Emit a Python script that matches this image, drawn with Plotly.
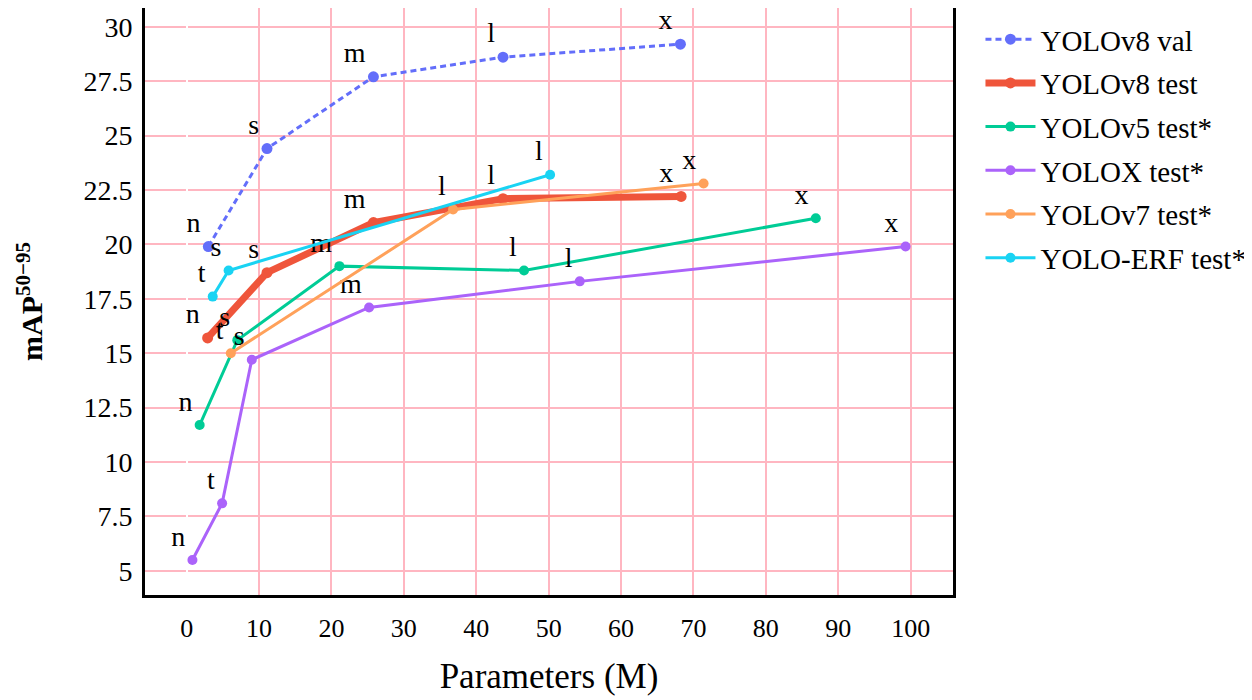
import plotly.graph_objects as go

# ---- data ----
v8val_params = [3.0, 11.1, 25.8, 43.7, 68.2]
v8val_map = [19.9, 24.4, 27.7, 28.6, 29.2]
v8val_labels = ["n", "s", "m", "l", "x"]

v8test_params = [2.9, 11.1, 25.8, 43.7, 68.3]
v8test_map = [15.7, 18.7, 21.0, 22.1, 22.2]
v8test_labels = ["n", "s", "m", "l", "x"]

v5_params = [1.8, 7.0, 21.1, 46.6, 86.9]
v5_map = [11.7, 15.6, 19.0, 18.8, 21.2]
v5_labels = ["n", "s", "m", "l", "x"]

yx_params = [0.8, 4.9, 9.0, 25.2, 54.3, 99.3]
yx_map = [5.5, 8.1, 14.7, 17.1, 18.3, 19.9]
yx_labels = ["n", "t", "s", "m", "l", "x"]

v7_params = [6.1, 36.8, 71.4]
v7_map = [15.0, 21.6, 22.8]
v7_labels = ["t", "l", "x"]

erf_params = [3.6, 5.8, 50.2]
erf_map = [17.6, 18.8, 23.2]
erf_labels = ["t", "s", "l"]

x_ticks = [0, 10, 20, 30, 40, 50, 60, 70, 80, 90, 100]
y_ticks = [5, 7.5, 10, 12.5, 15, 17.5, 20, 22.5, 25, 27.5, 30]

FONT = "Liberation Serif"

series = [
    ("YOLOv8 val", v8val_params, v8val_map, v8val_labels, "#636EFA", 3, "6px,4px", 11),
    ("YOLOv8 test", v8test_params, v8test_map, v8test_labels, "#EF553B", 7, "solid", 11),
    ("YOLOv5 test*", v5_params, v5_map, v5_labels, "#00CC96", 3, "solid", 10),
    ("YOLOX test*", yx_params, yx_map, yx_labels, "#AB63FA", 3, "solid", 10),
    ("YOLOv7 test*", v7_params, v7_map, v7_labels, "#FFA15A", 3, "solid", 10),
    ("YOLO-ERF test*", erf_params, erf_map, erf_labels, "#19D3F3", 3, "solid", 10),
]

fig = go.Figure()
for name, xs, ys, labels, color, width, dash, msize in series:
    fig.add_trace(go.Scatter(
        x=xs, y=ys, name=name, legendgroup=name, mode="lines+markers+text",
        text=labels, textposition="top left",
        textfont=dict(family=FONT, size=28, color="black"),
        line=dict(color=color, width=width, dash=dash),
        marker=dict(color=color, size=msize),
    ))

fig.update_layout(
    template="none",
    width=1252, height=700,
    margin=dict(l=137, r=307, t=0, b=113, autoexpand=False),
    plot_bgcolor="white", paper_bgcolor="white",
    font=dict(family=FONT, size=28, color="black"),
    xaxis=dict(
        range=[-5.75, 105.85], tickmode="array", tickvals=x_ticks,
        showline=True, linecolor="black", linewidth=3, mirror=True,
        showgrid=True, gridcolor="#FFB6C1", gridwidth=2,
        zeroline=True, zerolinecolor="white", zerolinewidth=2,
        ticks="outside", ticklen=8, tickcolor="rgba(0,0,0,0)",
        tickfont=dict(family=FONT, size=26, color="black"),
        automargin=True,
        title=dict(text="Parameters (M)", font=dict(family=FONT, size=35, color="black"), standoff=22),
    ),
    yaxis=dict(
        range=[3.89, 30.86], tickmode="array", tickvals=y_ticks,
        showline=True, linecolor="black", linewidth=3, mirror=True,
        showgrid=True, gridcolor="#FFB6C1", gridwidth=2,
        zeroline=True, zerolinecolor="white", zerolinewidth=2,
        ticks="outside", ticklen=4, tickcolor="rgba(0,0,0,0)",
        tickfont=dict(family=FONT, size=28, color="black"),
        automargin=True,
        title=dict(
            text="<b>mAP<sup style='font-size:25px'>50−95</sup></b>",
            font=dict(family=FONT, size=30, color="black"), standoff=32,
        ),
    ),
    legend=dict(
        x=1.034, y=0.99, xanchor="left", yanchor="top",
        font=dict(family=FONT, size=29, color="black"),
        bgcolor="rgba(0,0,0,0)", itemwidth=50, tracegroupgap=3,
    ),
)

fig.write_html("out.html")
